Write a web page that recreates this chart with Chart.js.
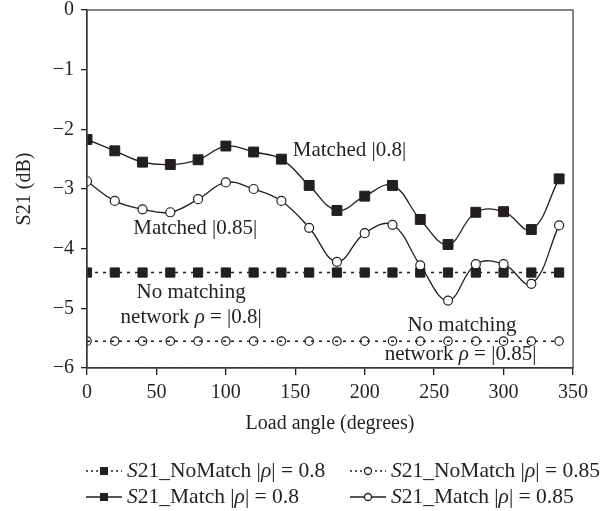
<!DOCTYPE html>
<html>
<head>
<meta charset="utf-8">
<script src="https://cdn.jsdelivr.net/npm/chart.js@4"></script>
<style>
  html, body { margin: 0; padding: 0; background: #fff; }
</style>
</head>
<body>
<canvas id="chart" width="613" height="511"></canvas>
<script>
// values (load angle in degrees, S21 in dB)
const angles = [0, 20, 40, 60, 80, 100, 120, 140, 160, 180, 200, 220, 240, 260, 280, 300, 320, 340];
const noMatch08 = [-4.40, -4.40, -4.40, -4.40, -4.40, -4.40, -4.40, -4.40, -4.40, -4.40, -4.40, -4.40, -4.40, -4.40, -4.40, -4.40, -4.40, -4.40];
const noMatch085 = [-5.55, -5.55, -5.55, -5.55, -5.55, -5.55, -5.55, -5.55, -5.55, -5.55, -5.55, -5.55, -5.55, -5.55, -5.55, -5.55, -5.55, -5.55];
const match08 = [-2.17, -2.36, -2.55, -2.59, -2.51, -2.28, -2.38, -2.50, -2.94, -3.36, -3.12, -2.94, -3.51, -3.93, -3.39, -3.38, -3.68, -2.83];
const match085 = [-2.87, -3.20, -3.34, -3.39, -3.17, -2.89, -3.00, -3.20, -3.65, -4.22, -3.74, -3.60, -4.28, -4.87, -4.26, -4.26, -4.59, -3.61];

const xTicks = [0, 50, 100, 150, 200, 250, 300, 350];
const yTicks = [0, -1, -2, -3, -4, -5, -6];

// text parts: [string, italic]
const seriesLabels = [
  [['S', true], ['21_NoMatch |', false], ['ρ', true], ['| = 0.8', false]],
  [['S', true], ['21_NoMatch |', false], ['ρ', true], ['| = 0.85', false]],
  [['S', true], ['21_Match |', false], ['ρ', true], ['| = 0.8', false]],
  [['S', true], ['21_Match |', false], ['ρ', true], ['| = 0.85', false]]
];

const notes = [
  { parts: [['Matched |0.8|', false]], x: 189, y: -2.35 },
  { parts: [['Matched |0.85|', false]], x: 78, y: -3.67 },
  { parts: [['No matching', false]], x: 75, y: -4.74 },
  { parts: [['network ', false], ['ρ', true], [' = |0.8|', false]], x: 75, y: -5.16 },
  { parts: [['No matching', false]], x: 270, y: -5.28 },
  { parts: [['network ', false], ['ρ', true], [' = |0.85|', false]], x: 269, y: -5.78 }
];

const FONT = '"Liberation Serif", "Times New Roman", serif';
const INK = '#231f20';

function pts(ys) {
  return angles.map((a, i) => ({ x: a, y: ys[i] }));
}

function drawParts(ctx, parts, x, y, align, size) {
  let total = 0;
  parts.forEach(([t, it]) => {
    ctx.font = (it ? 'italic ' : '') + size + 'px ' + FONT;
    total += ctx.measureText(t).width;
  });
  let cx = align === 'center' ? x - total / 2 : x;
  ctx.textAlign = 'left';
  ctx.textBaseline = 'middle';
  parts.forEach(([t, it]) => {
    ctx.font = (it ? 'italic ' : '') + size + 'px ' + FONT;
    ctx.fillText(t, cx, y);
    cx += ctx.measureText(t).width;
  });
}

const extras = {
  id: 'extras',
  afterDraw(chart) {
    const { ctx, chartArea: a, scales } = chart;
    ctx.save();
    // frame
    ctx.strokeStyle = '#444';
    ctx.lineWidth = 1.3;
    ctx.strokeRect(a.left, a.top, a.right - a.left, a.bottom - a.top);

    // notes on the plot
    ctx.fillStyle = INK;
    notes.forEach(n => {
      drawParts(ctx, n.parts, scales.x.getPixelForValue(n.x), scales.y.getPixelForValue(n.y), 'center', 21);
    });

    // legend
    const slots = [
      { x: 86, y: 471 }, { x: 350, y: 471 },
      { x: 86, y: 497 }, { x: 350, y: 497 }
    ];
    chart.data.datasets.forEach((ds, i) => {
      const s = slots[i];
      const x0 = s.x, x1 = s.x + 36, cx = (x0 + x1) / 2;
      ctx.strokeStyle = INK;
      ctx.lineWidth = 1.3;
      ctx.setLineDash(ds.borderDash.length ? [2, 3] : []);
      ctx.beginPath();
      ctx.moveTo(x0, s.y);
      ctx.lineTo(x1, s.y);
      ctx.stroke();
      ctx.setLineDash([]);
      if (ds.pointStyle === 'rect') {
        ctx.fillStyle = INK;
        ctx.fillRect(cx - 4, s.y - 4, 8, 8);
      } else {
        ctx.beginPath();
        ctx.arc(cx, s.y, 3.5, 0, Math.PI * 2);
        ctx.fillStyle = '#fff';
        ctx.fill();
        ctx.stroke();
      }
      ctx.fillStyle = INK;
      drawParts(ctx, seriesLabels[i], x1 + 5, s.y, 'left', 21.5);
    });
    ctx.restore();
  }
};

const ctx = document.getElementById('chart').getContext('2d');
new Chart(ctx, {
  type: 'line',
  data: {
    datasets: [
      {
        data: pts(noMatch08),
        borderColor: INK, borderWidth: 1.5, borderDash: [3, 5],
        pointStyle: 'rect', pointRadius: 6.5,
        pointBackgroundColor: INK, pointBorderColor: INK, pointBorderWidth: 1,
        tension: 0, order: 3
      },
      {
        data: pts(noMatch085),
        borderColor: INK, borderWidth: 1.5, borderDash: [3, 5],
        pointStyle: 'circle', pointRadius: 4.2,
        pointBackgroundColor: 'rgba(255,255,255,0)', pointBorderColor: INK, pointBorderWidth: 1.2,
        tension: 0, order: 4
      },
      {
        data: pts(match08),
        borderColor: INK, borderWidth: 1.3, borderDash: [],
        pointStyle: 'rect', pointRadius: 7,
        pointBackgroundColor: INK, pointBorderColor: INK, pointBorderWidth: 1,
        tension: 0.4, order: 2
      },
      {
        data: pts(match085),
        borderColor: INK, borderWidth: 1.3, borderDash: [],
        pointStyle: 'circle', pointRadius: 4.5,
        pointBackgroundColor: '#fff', pointBorderColor: INK, pointBorderWidth: 1.2,
        tension: 0.4, order: 1
      }
    ]
  },
  options: {
    responsive: false,
    animation: false,
    devicePixelRatio: 1,
    layout: { padding: { top: 0, right: 40, bottom: 73, left: 0 } },
    plugins: {
      legend: { display: false },
      tooltip: { enabled: false }
    },
    scales: {
      x: {
        type: 'linear', min: 0, max: 350,
        afterBuildTicks: s => { s.ticks = xTicks.map(v => ({ value: v })); },
        afterFit: s => { s.height = 70; },
        ticks: { color: INK, font: { family: FONT, size: 20 }, padding: 6, maxRotation: 0 },
        grid: { drawOnChartArea: false, drawTicks: true, tickLength: 7, color: INK, lineWidth: 1.3 },
        border: { color: INK, width: 1.3 },
        title: { display: true, text: 'Load angle (degrees)', color: INK, font: { family: FONT, size: 20 }, padding: { top: 0, bottom: 2 } }
      },
      y: {
        type: 'linear', min: -6, max: 0,
        afterBuildTicks: s => { s.ticks = yTicks.map(v => ({ value: v })); },
        afterFit: s => { s.width = 87; s.paddingTop = 10; s.paddingBottom = 0; },
        ticks: {
          color: INK, font: { family: FONT, size: 20 }, padding: 7,
          callback: v => (v < 0 ? '\u2212' + Math.abs(v) : String(v))
        },
        grid: { drawOnChartArea: false, drawTicks: true, tickLength: 6, color: INK, lineWidth: 1.3 },
        border: { color: INK, width: 1.3 },
        title: { display: true, text: 'S21 (dB)', color: INK, font: { family: FONT, size: 20 }, padding: { top: 13, bottom: 0 } }
      }
    }
  },
  plugins: [extras]
});
</script>
</body>
</html>
